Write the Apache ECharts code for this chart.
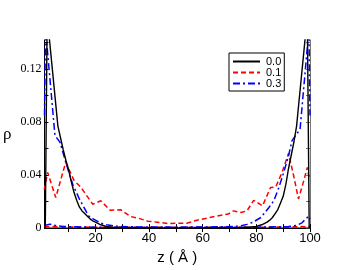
<!DOCTYPE html>
<html>
<head>
<meta charset="utf-8">
<script src="https://cdn.jsdelivr.net/npm/echarts@6/dist/echarts.min.js"></script>
<style>html,body{margin:0;padding:0;background:#fff}#c{width:349px;height:270px}</style>
</head>
<body>
<div id="c"></div>
<script>
// ---- data ----
var legendNames = ['0.0', '0.1', '0.3'];
var xTickValues = [10, 20, 30, 40, 50, 60, 70, 80, 90, 100];
var xLabelValues = [20, 40, 60, 80, 100];
var yTickValues = [0, 0.02, 0.04, 0.06, 0.08, 0.10, 0.12, 0.14];
var yLabelValues = [0, 0.04, 0.08, 0.12];

var zBlack = [1.3, 2, 6, 7, 8, 9, 10, 11, 12, 13, 14, 15, 16, 17, 18, 19, 20, 22, 24, 26, 30, 35, 40, 50, 60, 66, 70, 75, 78, 80, 82, 84, 85, 86, 87, 88, 89, 90, 91, 92, 93, 94, 95, 99, 99.7];
var rhoBlack = [0, 0.16, 0.077, 0.068, 0.059, 0.051, 0.044, 0.035, 0.027, 0.021, 0.016, 0.013, 0.011, 0.009, 0.007, 0.0055, 0.0045, 0.0025, 0.0013, 0.0007, 0.0003, 0.0001, 0.00005, 0, 0.00005, 0.0001, 0.0002, 0.0004, 0.0008, 0.0013, 0.0025, 0.0045, 0.006, 0.008, 0.011, 0.014, 0.019, 0.024, 0.033, 0.045, 0.055, 0.065, 0.077, 0.16, 0];
var zBlack2 = [1, 100];
var rhoBlack2 = [0, 0];

var zRed = [0.9, 2.2, 5.2, 8.9, 12, 14.5, 19, 22, 25.5, 29.5, 33, 36, 39.5, 43, 47, 51, 54, 57.5, 61.5, 65.5, 69.5, 71.5, 74.3, 76.5, 79, 82.3, 85.3, 87.2, 89.6, 92, 93.9, 95.7, 97.5, 99, 99.7];
var rhoRed = [0.029, 0.042, 0.023, 0.0496, 0.036, 0.031, 0.018, 0.0206, 0.0135, 0.0138, 0.0088, 0.0075, 0.0052, 0.0045, 0.0035, 0.0037, 0.0036, 0.0058, 0.0075, 0.0092, 0.0106, 0.013, 0.0118, 0.013, 0.021, 0.0168, 0.0307, 0.031, 0.042, 0.0565, 0.0395, 0.022, 0.0345, 0.0458, 0.037];
var zRed2 = [1, 3, 10, 30, 50, 70, 90, 97, 100];
var rhoRed2 = [0.001, 0.0012, 0.0008, 0.0006, 0.0006, 0.0006, 0.0008, 0.0012, 0.001];

var zBlue = [1, 1.4, 4.9, 6.8, 8.6, 10.5, 11.7, 12.9, 14, 15.6, 17.4, 19.3, 21.7, 24.1, 27.8, 32, 40, 50, 60, 68, 72, 74.3, 76.5, 78.6, 81.7, 84.7, 86.5, 88.4, 90.2, 92, 93.3, 96.3, 99.6, 100];
var rhoBlue = [0.085, 0.15, 0.070, 0.0647, 0.052, 0.0395, 0.032, 0.027, 0.022, 0.016, 0.0093, 0.0068, 0.004, 0.0025, 0.0015, 0.001, 0.0008, 0.0007, 0.0008, 0.001, 0.0013, 0.0017, 0.0028, 0.0043, 0.008, 0.0156, 0.0206, 0.0307, 0.042, 0.0546, 0.066, 0.0747, 0.15, 0.085];
var zBlue2 = [1, 3, 5, 8, 15, 25, 40, 55, 70, 85, 92, 95, 97, 98.5, 99.5, 100];
var rhoBlue2 = [0.002, 0.003, 0.002, 0.0012, 0.0008, 0.0006, 0.0005, 0.0005, 0.0006, 0.0008, 0.0012, 0.002, 0.004, 0.007, 0.009, 0.007];

function pairs(xs, ys) { return xs.map(function (x, i) { return [x, ys[i]]; }); }

var chart = echarts.init(document.getElementById('c'), null, { renderer: 'canvas' });
var sans = 'Liberation Sans, Arial, sans-serif';
var serif = 'Liberation Serif, Times New Roman, serif';

function mkSeries(name, xs, ys, color, type, width, z) {
  return {
    name: name, type: 'line', data: pairs(xs, ys), showSymbol: false, symbol: 'none', symbolSize: 0,
    lineStyle: { color: color, width: width, type: type }, itemStyle: { color: color },
    animation: false, z: z, clip: true
  };
}

var option = {
  animation: false,
  grid: { left: 40, right: 39, top: 40, bottom: 41, containLabel: false },
  legend: {
    data: legendNames, orient: 'vertical', left: 229, top: 53,
    padding: [3, 3, 2, 3], itemGap: 0, itemWidth: 27, itemHeight: 10,
    borderColor: '#000', borderWidth: 1, backgroundColor: '#fff',
    itemStyle: { opacity: 0 },
    textStyle: { fontFamily: sans, fontSize: 11, color: '#000', lineHeight: 10, padding: [0, 0, 0, 1] }
  },
  xAxis: [{
    type: 'value', min: 1, max: 100, position: 'bottom',
    name: 'z ( Å )', nameLocation: 'middle', nameGap: 14,
    nameTextStyle: { fontFamily: sans, fontSize: 15, color: '#000' },
    axisLine: { show: true, lineStyle: { color: '#000', width: 1 } },
    axisTick: { show: true, inside: true, length: 4, customValues: xTickValues, lineStyle: { color: '#000' } },
    axisLabel: { show: true, customValues: xLabelValues, margin: 4, fontFamily: sans, fontSize: 13, color: '#000' },
    splitLine: { show: false }
  }, {
    type: 'value', min: 1, max: 100, position: 'top',
    axisLine: { show: true, lineStyle: { color: '#000', width: 1 } },
    axisTick: { show: true, inside: true, length: 4, customValues: xTickValues, lineStyle: { color: '#000' } },
    axisLabel: { show: false }, splitLine: { show: false }
  }],
  yAxis: [{
    type: 'value', min: 0, max: 0.142, position: 'left',
    name: 'ρ', nameLocation: 'middle', nameRotate: 0, nameGap: 33,
    nameTextStyle: { fontFamily: serif, fontSize: 17, color: '#000' },
    axisLine: { show: true, lineStyle: { color: '#000', width: 1 } },
    axisTick: { show: true, inside: true, length: 4, customValues: yTickValues, lineStyle: { color: '#000' } },
    axisLabel: {
      show: true, customValues: yLabelValues, margin: 3, fontFamily: serif, fontSize: 12, color: '#000',
      formatter: function (v) { return v === 0 ? '0' : v.toFixed(2); }
    },
    splitLine: { show: false }
  }, {
    type: 'value', min: 0, max: 0.142, position: 'right',
    axisLine: { show: true, lineStyle: { color: '#777', width: 1 } },
    axisTick: { show: true, inside: true, length: 4, customValues: yTickValues, lineStyle: { color: '#777' } },
    axisLabel: { show: false }, splitLine: { show: false }
  }],
  series: [
    mkSeries('0.0', zBlack, rhoBlack, '#000000', 'solid', 1.4, 5),
    mkSeries('0.1', zRed, rhoRed, '#ff0000', [5, 3], 1.5, 3),
    mkSeries('0.3', zBlue, rhoBlue, '#0000ff', [7, 3, 2, 3], 1.5, 4),
    mkSeries('0.0', zBlack2, rhoBlack2, '#000000', 'solid', 1.4, 5),
    mkSeries('0.1', zRed2, rhoRed2, '#ff0000', [5, 3], 1.5, 3),
    mkSeries('0.3', zBlue2, rhoBlue2, '#0000ff', [7, 3, 2, 3], 1.5, 4)
  ]
};
chart.setOption(option);
</script>
</body>
</html>
